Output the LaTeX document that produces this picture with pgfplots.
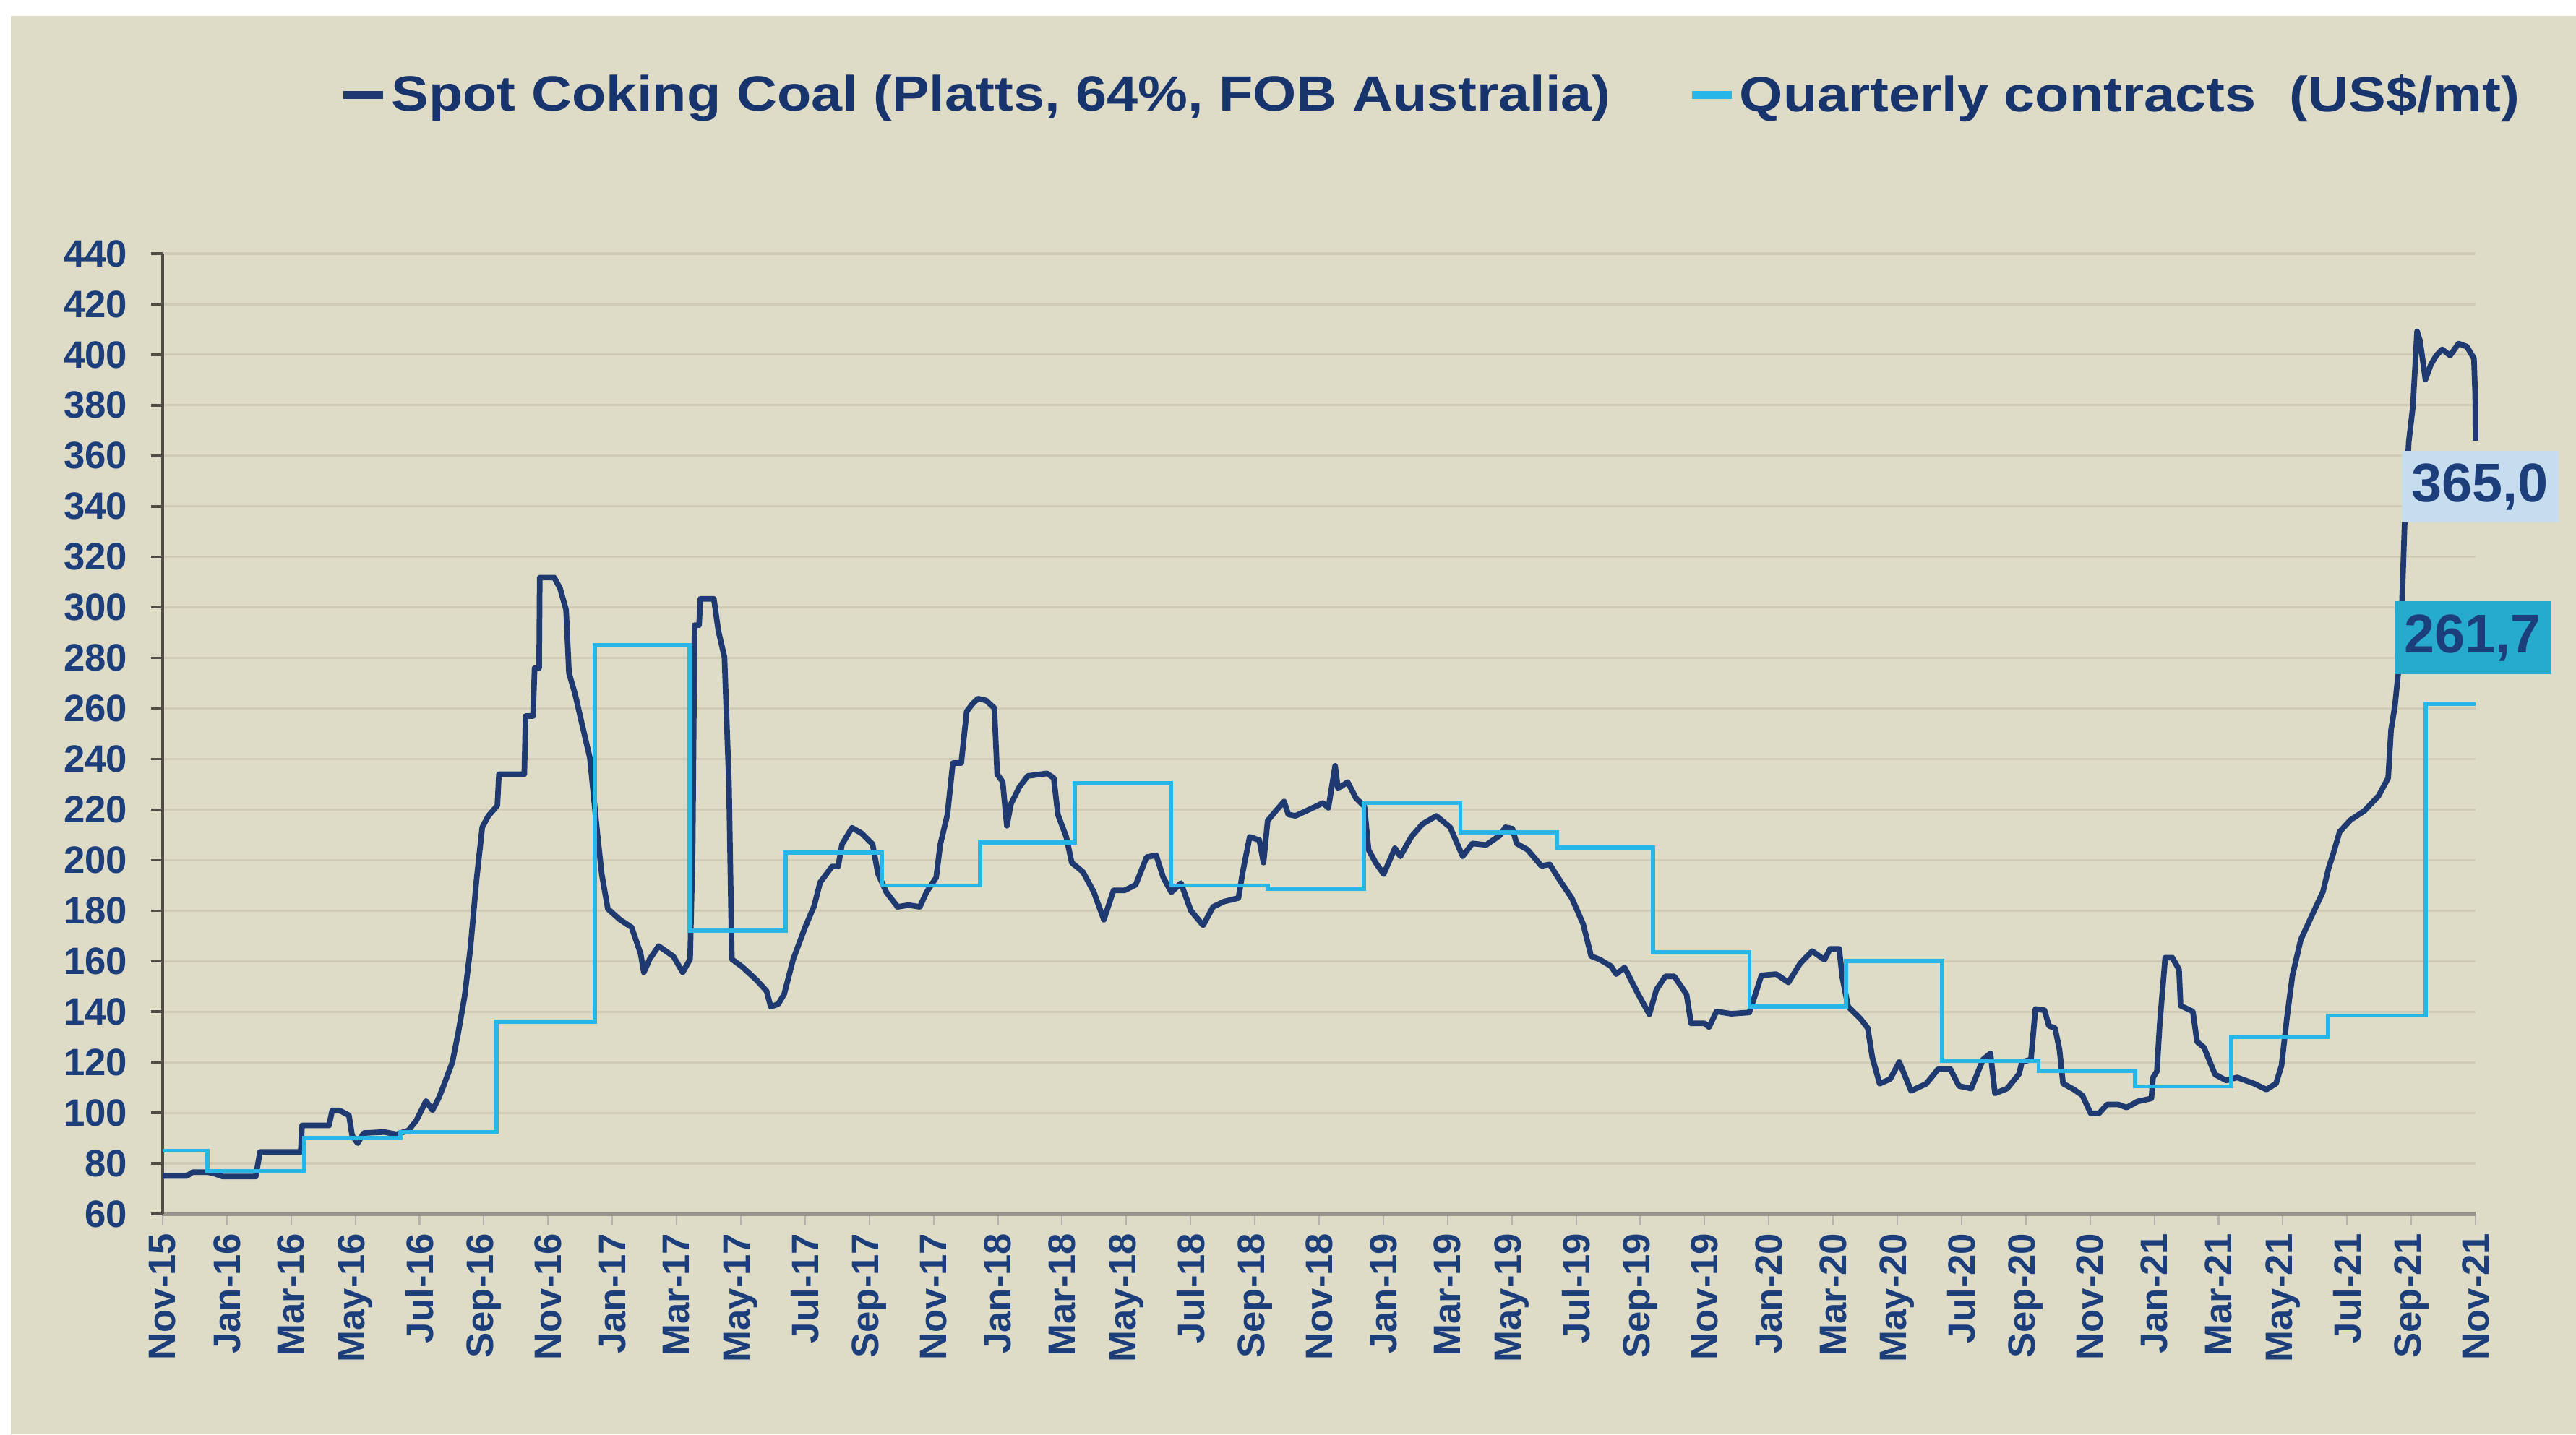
\documentclass[border=0pt]{standalone}
\usepackage{fontspec}
\setmainfont{Liberation Sans}
\usepackage{graphicx}
\usepackage{pgfplots}
\pgfplotsset{compat=1.18}
\definecolor{bg}{RGB}{222,219,198}
\definecolor{gridc}{RGB}{208,203,183}
\definecolor{txt}{RGB}{28,62,122}
\definecolor{legtxt}{RGB}{24,52,108}
\definecolor{spot}{RGB}{30,58,112}
\definecolor{quart}{RGB}{38,182,232}
\definecolor{lbla}{RGB}{198,221,240}
\definecolor{lblb}{RGB}{38,170,206}
\definecolor{yaxc}{RGB}{80,76,70}
\definecolor{xaxc}{RGB}{150,147,138}
\begin{document}
\begin{tikzpicture}
\useasboundingbox (-2.25cm,-3.05cm) rectangle (33.39cm,16.80cm);
\fill[white] (-2.25cm,-3.05cm) rectangle (33.39cm,16.80cm);
\fill[bg] (-2.10cm,-3.05cm) rectangle (33.39cm,16.58cm);
\begin{axis}[
 at={(0,0)}, anchor=south west,
 width=32cm, height=13.29cm, scale only axis,
 xmin=0, xmax=72, ymin=60, ymax=440,
 clip=false,
 axis x line*=bottom, axis y line*=left,
 x axis line style={-, draw=xaxc, line width=1.6pt},
 y axis line style={-, draw=yaxc, line width=1.4pt},
 tick align=outside,
 major tick length=0.16cm,
 xtick style={draw=xaxc!70, line width=0.6pt},
 ytick style={draw=yaxc, line width=1pt},
 ytick={60,80,...,440},
 xtick={0,2,...,72},
 xticklabels={Nov-15,Jan-16,Mar-16,May-16,Jul-16,Sep-16,Nov-16,Jan-17,Mar-17,May-17,Jul-17,Sep-17,Nov-17,Jan-18,Mar-18,May-18,Jul-18,Sep-18,Nov-18,Jan-19,Mar-19,May-19,Jul-19,Sep-19,Nov-19,Jan-20,Mar-20,May-20,Jul-20,Sep-20,Nov-20,Jan-21,Mar-21,May-21,Jul-21,Sep-21,Nov-21},
 /pgf/number format/assume math mode=true,
 ticklabel style={font=\bfseries\fontsize{15pt}{15pt}\selectfont, text=txt, inner sep=0pt},
 xticklabel style={rotate=90, anchor=east},
 xticklabel shift=0.1cm,
 yticklabel style={anchor=east, xshift=-0.32cm},
 ymajorgrids,
 grid style={draw=gridc, line width=0.9pt},
 legend style={at={(0.0766,1.165)}, anchor=west, draw=none, fill=none,
   legend columns=2, inner sep=0pt, outer sep=0pt,
   nodes={inner sep=0pt, text=legtxt, font=\bfseries\fontsize{19.5pt}{20pt}\selectfont},
   /tikz/every odd column/.append style={column sep=0.06cm},
   /tikz/every even column/.append style={column sep=1.07cm}},
 legend image code/.code={\draw[#1, line width=3pt] (0cm,0cm) -- (0.55cm,0cm);},
]
\addplot[spot, line width=2.2pt, line join=round] coordinates {
(0,75)(0.75,75)(0.93,76.5)(1.4,76.5)(1.6,76)(1.87,74.8)(2.9,74.8)(3.03,84.5)(4.3,84.5)(4.34,95)(5.18,95)(5.28,101)(5.5,101)(5.8,99)(5.9,91)(6.07,88)(6.26,92)(6.9,92.4)(7.28,91.5)(7.65,93)(7.9,97)(8.2,104.7)(8.4,101)(8.6,106)(8.74,110.5)(9.02,120)(9.2,131.5)(9.4,146)(9.58,165)(9.77,192)(9.95,213)(10.14,217.5)(10.42,221.6)(10.47,234)(11.26,234)(11.3,257)(11.53,257)(11.58,276)(11.72,276)(11.74,311.8)(12.19,311.8)(12.37,307.6)(12.56,299)(12.65,274)(12.84,265.7)(13.07,253)(13.3,240.5)(13.53,211)(13.67,194.4)(13.86,180.7)(14.23,176.5)(14.6,173.4)(14.88,163)(14.98,155.6)(15.16,160.8)(15.44,166)(15.9,161.9)(16.19,155.6)(16.42,160.8)(16.5,205)(16.56,293)(16.7,293)(16.74,303.4)(17.16,303.4)(17.3,290.8)(17.49,280.3)(17.63,230)(17.72,160.8)(18.05,157.7)(18.5,152.4)(18.8,148.2)(18.93,142)(19.16,143)(19.35,147)(19.63,160.8)(20,173.4)(20.28,181.8)(20.47,191.2)(20.84,197.5)
(21.03,197.5)(21.15,206.3)(21.46,212.8)(21.76,210.6)(22.1,206.3)(22.27,194.6)(22.53,187.3)(22.88,181.5)(23.22,182.2)(23.57,181.5)(23.78,187.3)(24.08,193.1)(24.21,206.3)(24.43,218)(24.6,238.4)(24.86,238.4)(25.03,258.8)(25.2,261.7)(25.38,263.9)(25.63,263.2)(25.89,260.2)(25.98,234)(26.15,231)(26.28,213.6)(26.41,222.3)(26.67,228.9)(26.93,233.3)(27.53,234.3)(27.74,232.5)(27.87,218)(28.13,209.2)(28.3,199)(28.65,195.3)(28.99,187.3)(29.3,176.4)(29.6,188)(29.94,188)(30.29,190.2)(30.63,201.2)(30.93,201.9)(31.15,193.1)(31.4,187.3)(31.7,190.9)(32.01,180)(32.39,174.2)(32.7,181.5)(33.04,183.6)(33.49,185)(33.62,195.1)(33.84,209.2)(34.14,207.9)(34.27,199)(34.4,215.6)(34.65,219.4)(34.91,223.2)(35.04,218.1)(35.26,217.5)(35.69,220)(36.12,222.6)(36.29,220.7)(36.5,237.3)(36.59,228.3)(36.89,230.9)(37.15,224.5)(37.41,221.3)(37.54,204.1)(37.76,199)(38.01,194.5)(38.36,204.7)(38.53,201.5)(38.87,209.2)(39.22,214.3)(39.65,217.5)(40.08,213)(40.47,201.5)(40.77,206.6)(41.2,206)(41.63,209.8)(41.8,213)(42.02,212.4)(42.15,206.6)(42.49,204.1)(42.92,197.7)(43.18,198.3)(43.53,191.3)(43.87,184.9)(44.22,174.7)(44.47,162)(44.73,160.7)(45.08,158.1)(45.25,154.9)(45.51,157.5)(45.94,146.8)(46.28,139)(46.5,148.7)(46.78,154)(47.06,154)(47.44,146.8)(47.58,135.4)(48,135.4)(48.14,133.9)(48.37,140.1)(48.83,139.2)(49.39,139.7)(49.58,146.8)(49.77,154.4)(50.23,154.9)(50.61,151.6)(50.98,159.2)(51.35,164)(51.73,160.6)(51.91,164.9)(52.19,164.9)(52.29,153.5)(52.47,142)(52.85,137.3)(53.08,133.5)(53.22,122)(53.45,111.5)(53.78,113.4)(54.06,120.1)(54.43,108.7)(54.9,111.5)(55.27,117.3)(55.65,117.3)(55.92,110.6)(56.3,109.6)(56.67,121.1)(56.9,123.5)(57.04,107.7)(57.42,109.6)(57.79,115.4)(57.88,120.1)(58.16,121.1)(58.3,141.1)(58.58,140.6)(58.72,134.4)(58.91,133.5)(59.05,124.9)(59.16,111.6)(59.5,109.2)(59.76,106.9)(60.02,99.8)(60.28,99.8)(60.53,103.3)(60.88,103.3)(61.14,102.1)(61.48,104.5)(61.91,105.7)(61.96,114)(62.08,116.4)(62.17,135.3)(62.34,161.4)(62.56,161.4)(62.77,156.7)(62.82,142.4)(63.2,140.1)(63.33,128.2)(63.55,125.8)(63.89,115.2)(64.24,112.8)(64.58,114)(65.1,111.6)(65.49,109.2)(65.79,111.6)(65.96,118.7)(66.13,137.7)(66.3,154.3)(66.56,168.5)(66.99,180.4)(67.25,187.5)(67.43,197)(67.55,201.7)(67.77,211.2)(68.11,215.9)(68.54,219.5)(68.98,225.4)(69.28,232.5)(69.37,251.5)(69.49,261)(69.66,282.3)(69.79,332.1)(69.92,365.3)(70.05,379.5)(70.18,409.2)(70.27,405.6)(70.44,390.2)(70.61,396.1)(70.78,399.7)(70.96,402.1)(71.21,399.7)(71.47,404.4)(71.73,403.2)(71.95,398.5)(71.99,384.3)(72.0,366)
};
\addlegendentry{\scalebox{1.13}[1]{Spot Coking Coal (Platts, 64\%, FOB Australia)}}
\addplot[quart, line width=1.6pt, const plot] coordinates {
(0,85)(1.4,77)(4.4,90)(7.4,92.5)(10.4,136)(13.45,285)(16.4,172)(19.4,203)(22.4,190)(25.45,207)(28.4,230.5)(31.4,190)(34.4,188.5)(37.4,222.5)(40.4,211)(43.4,205)(46.4,163.5)(49.4,142)(52.4,160)(55.4,120.5)(58.4,116.5)(61.4,110.5)(64.4,130)(67.4,138.5)(70.45,261.7)(72,261.7)
};
\addlegendentry{\scalebox{1.13}[1]{Quarterly contracts\hspace{0.6em}(US\$/mt)}}
\node[fill=lbla, text=txt, font=\bfseries\fontsize{21.5pt}{22pt}\selectfont, minimum width=2.17cm, minimum height=0.99cm, inner sep=0pt] at (axis cs:72.14,347.7) {365,0};
\node[fill=lblb, text=txt, font=\bfseries\fontsize{21.5pt}{22pt}\selectfont, minimum width=2.17cm, minimum height=1.01cm, inner sep=0pt] at (axis cs:71.92,287.9) {261,7};
\end{axis}
\end{tikzpicture}
\end{document}
